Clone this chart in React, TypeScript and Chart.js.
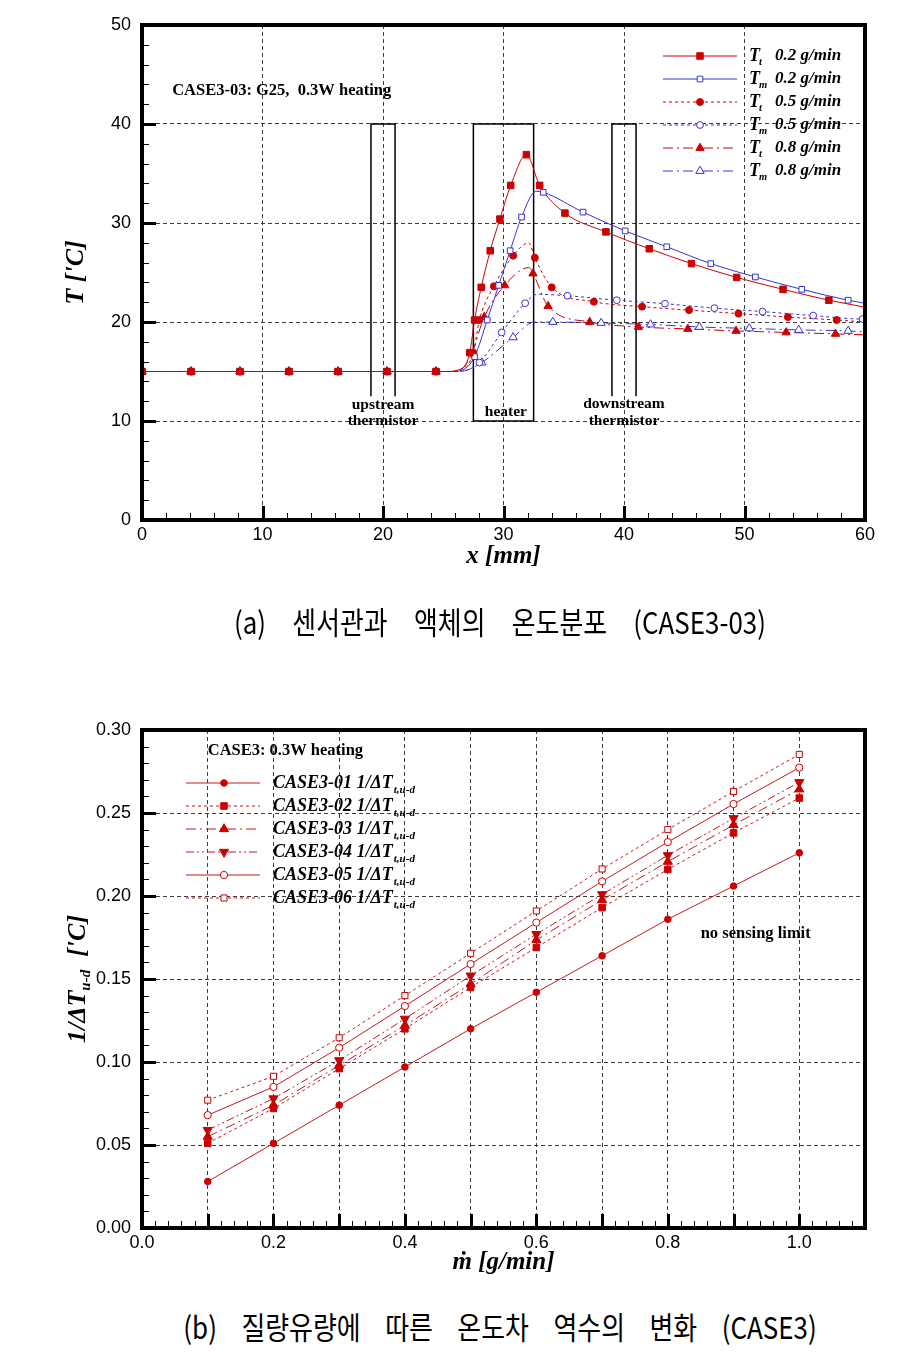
import React, { useEffect, useRef } from 'react';
import { Chart, registerables } from 'chart.js';

Chart.register(...registerables);

// ---------------- Chart (a): temperature distribution ----------------
const inletX = [0, 4.07, 8.13, 12.2, 16.27, 20.33, 24.4];
const inletT = [15, 15, 15, 15, 15, 15, 15];

const tt02X = [27.2, 27.6, 28.15, 28.9, 29.7, 30.6, 31.9, 33.0, 35.1, 38.5, 42.1, 45.6, 49.35, 53.2, 57.0];
const tt02T = [16.9, 20.2, 23.5, 27.2, 30.4, 33.8, 36.9, 33.8, 31.0, 29.1, 27.4, 25.9, 24.5, 23.3, 22.2];
const tt02CurveX = [25.4, 26.2, 26.8, 60];
const tt02CurveT = [15.0, 15.15, 15.6, 21.5];

const tm02X = [27.6, 28.65, 29.6, 30.55, 31.5, 33.3, 36.6, 40.1, 43.55, 47.2, 50.9, 54.75, 58.6];
const tm02T = [16.5, 20.2, 23.7, 27.2, 30.6, 33.1, 31.1, 29.2, 27.6, 25.9, 24.55, 23.3, 22.2];
const tm02CurveX = [25.6, 26.6, 32.7, 60];
const tm02CurveT = [15.0, 15.15, 33.2, 21.9];

const tt05X = [27.5, 28.0, 29.2, 30.8, 32.6, 34.0, 37.5, 41.5, 45.4, 49.5, 53.6, 57.65];
const tt05T = [16.9, 20.2, 23.6, 26.7, 26.5, 23.5, 22.05, 21.55, 21.2, 20.85, 20.5, 20.2];
const tt05CurveX = [25.5, 26.3, 32.1, 60];
const tt05CurveT = [15.0, 15.15, 28.0, 20.0];

const tm05X = [28.0, 29.85, 31.8, 35.3, 39.4, 43.4, 47.5, 51.5, 55.7, 59.8];
const tm05T = [15.9, 18.95, 21.9, 22.65, 22.2, 21.85, 21.4, 21.05, 20.65, 20.3];
const tm05CurveX = [26.0, 27.0, 32.8, 60];
const tm05CurveT = [15.0, 15.15, 22.8, 20.3];

const tt08X = [28.4, 30.1, 32.45, 33.7, 37.15, 41.2, 45.3, 49.3, 53.45, 57.55];
const tt08T = [20.5, 23.7, 24.9, 21.6, 20.0, 19.5, 19.3, 19.1, 18.95, 18.8];
const tt08CurveX = [25.5, 26.4, 27.3, 32.1, 60];
const tt08CurveT = [15.0, 15.15, 16.6, 25.5, 18.7];

const tm08X = [28.2, 30.8, 34.1, 38.1, 42.2, 46.25, 50.4, 54.5, 58.6];
const tm08T = [15.9, 18.45, 20.0, 19.9, 19.75, 19.5, 19.35, 19.2, 19.1];
const tm08CurveX = [26.0, 27.0, 32.6, 60];
const tm08CurveT = [15.0, 15.15, 20.0, 19.0];

const topLegendRates = ['0.2 g/min', '0.2 g/min', '0.5 g/min', '0.5 g/min', '0.8 g/min', '0.8 g/min'];
const topLegendSubs = ['t', 'm', 't', 'm', 't', 'm'];

const topXTicks = { min: 0, max: 60, step: 10, minor: 2 };
const topYTicks = { min: 0, max: 50, step: 10, minor: 2 };

// ---------------- Chart (b): inverse temperature difference ----------------
const massFlow = [0.1, 0.2, 0.3, 0.4, 0.5, 0.6, 0.7, 0.8, 0.9, 1.0];
const case01 = [0.028, 0.051, 0.074, 0.097, 0.12, 0.142, 0.164, 0.186, 0.206, 0.226];
const case02 = [0.051, 0.072, 0.096, 0.12, 0.145, 0.169, 0.193, 0.216, 0.238, 0.259];
const case03 = [0.055, 0.074, 0.098, 0.122, 0.147, 0.1735, 0.1976, 0.2207, 0.2428, 0.2643];
const case04 = [0.059, 0.078, 0.101, 0.126, 0.152, 0.177, 0.201, 0.2245, 0.2468, 0.2685];
const case05 = [0.068, 0.085, 0.1086, 0.1337, 0.159, 0.184, 0.2088, 0.2325, 0.2554, 0.2773];
const case06 = [0.077, 0.0914, 0.1146, 0.14, 0.1655, 0.191, 0.2163, 0.24, 0.263, 0.2853];
const caseNames = ['CASE3-01', 'CASE3-02', 'CASE3-03', 'CASE3-04', 'CASE3-05', 'CASE3-06'];

const botXTicks = { min: 0, max: 1.1, step: 0.1, minor: 0.02 };
const botYTicks = { min: 0, max: 0.3, step: 0.05, minor: 0.01 };

// ---------------- styles ----------------
const RED = '#cc0000';
const RED2 = '#c41a1a';
const BLUE = '#3535d8';
const GRID = '#3c3c3c';
const SERIF = '"Liberation Serif", "Times New Roman", serif';
const SANS = '"Liberation Sans", Arial, sans-serif';
const SOLID: number[] = [];
const DASH = [3, 3];
const DASHDOT = [10, 4, 2, 4];
const DASHDOTDOT = [8, 3, 2, 3, 2, 3];

type Marker = { style: string; filled: boolean; r: number; rot?: number };

function drawMarker(ctx: CanvasRenderingContext2D, m: Marker, x: number, y: number, color: string) {
  ctx.save();
  ctx.beginPath();
  if (m.style === 'rect') {
    const s = Math.SQRT1_2 * m.r;
    ctx.rect(x - s, y - s, 2 * s, 2 * s);
  } else if (m.style === 'circle') {
    ctx.arc(x, y, m.r, 0, Math.PI * 2);
  } else {
    let rad = ((m.rot || 0) * Math.PI) / 180;
    ctx.moveTo(x + Math.sin(rad) * m.r, y - Math.cos(rad) * m.r);
    rad += (2 * Math.PI) / 3;
    ctx.lineTo(x + Math.sin(rad) * m.r, y - Math.cos(rad) * m.r);
    rad += (2 * Math.PI) / 3;
    ctx.lineTo(x + Math.sin(rad) * m.r, y - Math.cos(rad) * m.r);
    ctx.closePath();
  }
  ctx.fillStyle = m.filled ? color : '#ffffff';
  ctx.fill();
  ctx.lineWidth = 1;
  ctx.strokeStyle = color;
  ctx.setLineDash([]);
  ctx.stroke();
  ctx.restore();
}

function framePlugin(id: string, xt: any, yt: any) {
  return {
    id,
    afterDatasetsDraw(chart: any) {
      const { ctx, chartArea: a, scales } = chart;
      const xs = scales.x;
      const ys = scales.y;
      ctx.save();
      ctx.strokeStyle = '#000';
      ctx.setLineDash([]);
      const ticksX = (step: number, len: number, w: number) => {
        const n = Math.round((xt.max - xt.min) / step);
        ctx.lineWidth = w;
        for (let i = 0; i <= n; i++) {
          const px = Math.round(xs.getPixelForValue(xt.min + i * step)) + (w % 2 ? 0.5 : 0);
          ctx.beginPath();
          ctx.moveTo(px, a.bottom);
          ctx.lineTo(px, a.bottom - len);
          ctx.stroke();
        }
      };
      const ticksY = (step: number, len: number, w: number) => {
        const n = Math.round((yt.max - yt.min) / step);
        ctx.lineWidth = w;
        for (let i = 0; i <= n; i++) {
          const py = Math.round(ys.getPixelForValue(yt.min + i * step)) + (w % 2 ? 0.5 : 0);
          ctx.beginPath();
          ctx.moveTo(a.left, py);
          ctx.lineTo(a.left + len, py);
          ctx.stroke();
        }
      };
      ticksX(xt.minor, 7, 1);
      ticksY(yt.minor, 7, 1);
      ticksX(xt.step, 14, 3);
      ticksY(yt.step, 14, 3);
      ctx.lineWidth = 4;
      ctx.strokeRect(a.left, a.top, a.right - a.left, a.bottom - a.top);
      ctx.restore();
    },
  };
}

function gridColor(min: number, max: number) {
  return (c: any) => {
    const v = c.tick ? c.tick.value : NaN;
    if (Math.abs(v - min) < 1e-9 || Math.abs(v - max) < 1e-9) return 'rgba(0,0,0,0)';
    return GRID;
  };
}

function curvePoints(mx: number[], my: number[], cx: number[], cy: number[]) {
  const pts: { x: number; y: number }[] = [];
  inletX.forEach((x, i) => pts.push({ x, y: inletT[i] }));
  mx.forEach((x, i) => pts.push({ x, y: my[i] }));
  cx.forEach((x, i) => pts.push({ x, y: cy[i] }));
  pts.sort((p, q) => p.x - q.x);
  return pts;
}

function markerPoints(mx: number[], my: number[]) {
  const pts: { x: number; y: number }[] = [];
  inletX.forEach((x, i) => pts.push({ x, y: inletT[i] }));
  mx.forEach((x, i) => pts.push({ x, y: my[i] }));
  return pts;
}

const topSeries = [
  { mx: tt02X, my: tt02T, cx: tt02CurveX, cy: tt02CurveT, color: RED, dash: SOLID, marker: { style: 'rect', filled: true, r: 4.6 } },
  { mx: tm02X, my: tm02T, cx: tm02CurveX, cy: tm02CurveT, color: BLUE, dash: SOLID, marker: { style: 'rect', filled: false, r: 4.0 } },
  { mx: tt05X, my: tt05T, cx: tt05CurveX, cy: tt05CurveT, color: RED, dash: DASH, marker: { style: 'circle', filled: true, r: 3.5 } },
  { mx: tm05X, my: tm05T, cx: tm05CurveX, cy: tm05CurveT, color: BLUE, dash: DASH, marker: { style: 'circle', filled: false, r: 3.4 } },
  { mx: tt08X, my: tt08T, cx: tt08CurveX, cy: tt08CurveT, color: RED, dash: DASHDOT, marker: { style: 'triangle', filled: true, r: 4.8 } },
  { mx: tm08X, my: tm08T, cx: tm08CurveX, cy: tm08CurveT, color: BLUE, dash: DASHDOT, marker: { style: 'triangle', filled: false, r: 4.8 } },
];

const botSeries = [
  { y: case01, dash: SOLID, marker: { style: 'circle', filled: true, r: 3.3 } },
  { y: case02, dash: DASH, marker: { style: 'rect', filled: true, r: 4.6 } },
  { y: case03, dash: DASHDOT, marker: { style: 'triangle', filled: true, r: 5.3 } },
  { y: case04, dash: DASHDOTDOT, marker: { style: 'triangle', filled: true, r: 5.3, rot: 180 } },
  { y: case05, dash: SOLID, marker: { style: 'circle', filled: false, r: 3.6 } },
  { y: case06, dash: DASH, marker: { style: 'rect', filled: false, r: 4.3 } },
];

// annotation geometry (data coordinates)
const upstreamBox = { x0: 19, x1: 21, top: 40, bottom: 12.5 };
const heaterBox = { x0: 27.5, x1: 32.5, top: 40, bottom: 10 };
const downstreamBox = { x0: 39, x1: 41, top: 40, bottom: 12.5 };

const topAnnotations = {
  id: 'topAnnotations',
  beforeDatasetsDraw(chart: any) {
    const { ctx, scales } = chart;
    const xs = scales.x;
    const ys = scales.y;
    ctx.save();
    ctx.strokeStyle = '#000';
    ctx.lineWidth = 1.5;
    ctx.setLineDash([]);
    const openBox = (b: any) => {
      const x0 = xs.getPixelForValue(b.x0);
      const x1 = xs.getPixelForValue(b.x1);
      const yt = ys.getPixelForValue(b.top);
      const yb = ys.getPixelForValue(b.bottom);
      ctx.beginPath();
      ctx.moveTo(x0, yb);
      ctx.lineTo(x0, yt);
      ctx.lineTo(x1, yt);
      ctx.lineTo(x1, yb);
      ctx.stroke();
    };
    openBox(upstreamBox);
    openBox(downstreamBox);
    const hx0 = xs.getPixelForValue(heaterBox.x0);
    const hx1 = xs.getPixelForValue(heaterBox.x1);
    const hyt = ys.getPixelForValue(heaterBox.top);
    const hyb = ys.getPixelForValue(heaterBox.bottom);
    ctx.strokeRect(hx0, hyt, hx1 - hx0, hyb - hyt);

    ctx.fillStyle = '#000';
    ctx.font = `bold 15.5px ${SERIF}`;
    ctx.textAlign = 'center';
    ctx.textBaseline = 'middle';
    ctx.fillText('upstream', xs.getPixelForValue(20), ys.getPixelForValue(11.65));
    ctx.fillText('thermistor', xs.getPixelForValue(20), ys.getPixelForValue(9.95));
    ctx.fillText('heater', xs.getPixelForValue(30.2), ys.getPixelForValue(10.9));
    ctx.fillText('downstream', xs.getPixelForValue(40), ys.getPixelForValue(11.7));
    ctx.fillText('thermistor', xs.getPixelForValue(40), ys.getPixelForValue(9.95));

    ctx.textAlign = 'left';
    ctx.font = `bold 16.5px ${SERIF}`;
    ctx.fillText('CASE3-03: G25,  0.3W heating', xs.getPixelForValue(2.5), ys.getPixelForValue(43.4));
    ctx.restore();
  },
  afterDatasetsDraw(chart: any) {
    const { ctx, chartArea: a } = chart;
    ctx.save();
    topSeries.forEach((s, i) => {
      const y = a.top + 31 + i * 23;
      ctx.strokeStyle = s.color;
      ctx.lineWidth = 1;
      ctx.setLineDash(s.dash);
      ctx.beginPath();
      ctx.moveTo(a.left + 521, y);
      ctx.lineTo(a.left + 595, y);
      ctx.stroke();
      drawMarker(ctx, s.marker, a.left + 558, y, s.color);
      ctx.fillStyle = '#000';
      ctx.textBaseline = 'middle';
      ctx.textAlign = 'left';
      ctx.font = `italic bold 18px ${SERIF}`;
      ctx.fillText('T', a.left + 607, y);
      ctx.font = `italic bold 10.5px ${SERIF}`;
      ctx.fillText(topLegendSubs[i], a.left + 617, y + 6);
      ctx.font = `italic bold 17px ${SERIF}`;
      ctx.fillText(topLegendRates[i], a.left + 633, y);
    });
    ctx.restore();
  },
};

const botAnnotations = {
  id: 'botAnnotations',
  afterDatasetsDraw(chart: any) {
    const { ctx, chartArea: a, scales } = chart;
    const xs = scales.x;
    const ys = scales.y;
    ctx.save();
    ctx.fillStyle = '#000';
    ctx.textBaseline = 'middle';
    ctx.textAlign = 'left';
    ctx.font = `bold 16.5px ${SERIF}`;
    ctx.fillText('CASE3: 0.3W heating', xs.getPixelForValue(0.1), ys.getPixelForValue(0.2873));
    ctx.fillText('no sensing limit', xs.getPixelForValue(0.85), ys.getPixelForValue(0.177));

    botSeries.forEach((s, i) => {
      const y = a.top + 53 + i * 23;
      ctx.strokeStyle = RED2;
      ctx.lineWidth = 1;
      ctx.setLineDash(s.dash);
      ctx.beginPath();
      ctx.moveTo(a.left + 44, y);
      ctx.lineTo(a.left + 118, y);
      ctx.stroke();
      drawMarker(ctx, s.marker, a.left + 82, y, RED);
      ctx.fillStyle = '#000';
      ctx.font = `italic bold 18px ${SERIF}`;
      const main = `${caseNames[i]} 1/\u0394T`;
      ctx.fillText(main, a.left + 131, y);
      const w = ctx.measureText(main).width;
      ctx.font = `italic bold 11px ${SERIF}`;
      ctx.fillText('t,u-d', a.left + 132 + w, y + 7);
    });

    // y axis title with subscript
    const cy = (a.top + a.bottom) / 2;
    const big = `italic bold 26px ${SERIF}`;
    const small = `italic bold 15px ${SERIF}`;
    ctx.font = big;
    const w1 = ctx.measureText('1/\u0394T').width;
    const w3 = ctx.measureText("  ['C]").width;
    ctx.font = small;
    const w2 = ctx.measureText('u-d').width;
    const total = w1 + w2 + w3;
    ctx.translate(78, cy);
    ctx.rotate(-Math.PI / 2);
    ctx.textAlign = 'left';
    ctx.textBaseline = 'middle';
    ctx.font = big;
    ctx.fillText('1/\u0394T', -total / 2, 0);
    ctx.font = small;
    ctx.fillText('u-d', -total / 2 + w1, 8);
    ctx.font = big;
    ctx.fillText("  ['C]", -total / 2 + w1 + w2, 0);
    ctx.restore();
  },
};

function useChart(ref: React.RefObject<HTMLCanvasElement>, makeConfig: () => any) {
  useEffect(() => {
    if (!ref.current) return;
    const chart = new Chart(ref.current, makeConfig());
    return () => chart.destroy();
  }, []);
}

function topConfig() {
  const datasets: any[] = [];
  topSeries.forEach((s) => {
    datasets.push({
      data: curvePoints(s.mx, s.my, s.cx, s.cy),
      borderColor: s.color,
      borderWidth: 1,
      borderDash: s.dash,
      pointRadius: 0,
      cubicInterpolationMode: 'monotone',
      fill: false,
      order: 2,
    });
  });
  topSeries.forEach((s) => {
    datasets.push({
      data: markerPoints(s.mx, s.my),
      showLine: false,
      pointStyle: s.marker.style,
      pointRadius: s.marker.r,
      pointBackgroundColor: s.marker.filled ? s.color : '#ffffff',
      pointBorderColor: s.color,
      pointBorderWidth: 1,
      order: 1,
    });
  });
  return {
    type: 'line',
    data: { datasets },
    options: {
      animation: false,
      responsive: false,
      events: [],
      layout: { padding: { left: 0, right: 39, top: 25, bottom: 0 } },
      plugins: { legend: { display: false }, tooltip: { enabled: false } },
      scales: {
        x: {
          type: 'linear',
          min: topXTicks.min,
          max: topXTicks.max,
          afterFit: (s: any) => { s.height = 80; },
          ticks: { stepSize: topXTicks.step, color: '#000', font: { family: SANS, size: 18 }, padding: 4, maxRotation: 0, autoSkip: false },
          grid: { drawTicks: false, lineWidth: 1, color: gridColor(topXTicks.min, topXTicks.max) },
          border: { display: false, dash: [4, 3] },
          title: { display: true, text: 'x [mm]', color: '#000', font: { family: SERIF, size: 25, style: 'italic', weight: 'bold' }, padding: { top: 0, bottom: 28 } },
        },
        y: {
          type: 'linear',
          min: topYTicks.min,
          max: topYTicks.max,
          afterFit: (s: any) => { s.width = 142; },
          ticks: { stepSize: topYTicks.step, color: '#000', font: { family: SANS, size: 18 }, padding: 11 },
          grid: { drawTicks: false, lineWidth: 1, color: gridColor(topYTicks.min, topYTicks.max) },
          border: { display: false, dash: [4, 3] },
          title: { display: true, text: "T ['C]", color: '#000', font: { family: SERIF, size: 26, style: 'italic', weight: 'bold' }, padding: { top: 61, bottom: 0 } },
        },
      },
    },
    plugins: [topAnnotations, framePlugin('topFrame', topXTicks, topYTicks)],
  };
}

function botConfig() {
  const datasets = botSeries.map((s) => ({
    data: massFlow.map((x, i) => ({ x, y: s.y[i] })),
    borderColor: RED2,
    borderWidth: 1,
    borderDash: s.dash,
    tension: 0,
    fill: false,
    pointStyle: s.marker.style,
    pointRotation: s.marker.rot || 0,
    pointRadius: s.marker.r,
    pointBackgroundColor: s.marker.filled ? RED : '#ffffff',
    pointBorderColor: RED,
    pointBorderWidth: 1,
  }));
  return {
    type: 'line',
    data: { datasets },
    options: {
      animation: false,
      responsive: false,
      events: [],
      layout: { padding: { left: 0, right: 39, top: 50, bottom: 0 } },
      plugins: { legend: { display: false }, tooltip: { enabled: false } },
      scales: {
        x: {
          type: 'linear',
          min: botXTicks.min,
          max: botXTicks.max,
          afterFit: (s: any) => { s.height = 72; },
          ticks: {
            stepSize: botXTicks.step,
            color: '#000',
            font: { family: SANS, size: 18 },
            padding: 4,
            maxRotation: 0,
            autoSkip: false,
            callback: (v: any) => {
              const k = Math.round(Number(v) * 10);
              return k % 2 === 0 ? (k / 10).toFixed(1) : '';
            },
          },
          grid: { drawTicks: false, lineWidth: 1, color: gridColor(botXTicks.min, botXTicks.max) },
          border: { display: false, dash: [4, 3] },
          title: { display: true, text: '\u1E41 [g/min]', color: '#000', font: { family: SERIF, size: 25, style: 'italic', weight: 'bold' }, padding: { top: 0, bottom: 22 } },
        },
        y: {
          type: 'linear',
          min: botYTicks.min,
          max: botYTicks.max,
          afterFit: (s: any) => { s.width = 142; },
          ticks: {
            stepSize: botYTicks.step,
            color: '#000',
            font: { family: SANS, size: 18 },
            padding: 11,
            callback: (v: any) => Number(v).toFixed(2),
          },
          grid: { drawTicks: false, lineWidth: 1, color: gridColor(botYTicks.min, botYTicks.max) },
          border: { display: false, dash: [4, 3] },
          title: { display: false },
        },
      },
    },
    plugins: [botAnnotations, framePlugin('botFrame', botXTicks, botYTicks)],
  };
}

const captionStyle: React.CSSProperties = {
  position: 'absolute',
  left: 500,
  whiteSpace: 'nowrap',
  fontFamily: '"Noto Sans CJK KR", sans-serif',
  fontSize: 30.5,
  lineHeight: '32px',
  color: '#000',
  transform: 'translateX(-50%) scaleX(0.85)',
};

export default function App() {
  const topRef = useRef<HTMLCanvasElement>(null);
  const botRef = useRef<HTMLCanvasElement>(null);
  useChart(topRef, topConfig);
  useChart(botRef, botConfig);
  return (
    <div style={{ position: 'absolute', left: 0, top: 0, width: 904, height: 1367, background: '#fff', overflow: 'hidden' }}>
      <canvas ref={topRef} width={904} height={600} style={{ position: 'absolute', left: 0, top: 0, width: 904, height: 600 }} />
      <div style={{ ...captionStyle, top: 605, wordSpacing: 24 }}>(a) 센서관과 액체의 온도분포 (CASE3-03)</div>
      <canvas ref={botRef} width={904} height={620} style={{ position: 'absolute', left: 0, top: 680, width: 904, height: 620 }} />
      <div style={{ ...captionStyle, top: 1310, wordSpacing: 22 }}>(b) 질량유량에 따른 온도차 역수의 변화 (CASE3)</div>
    </div>
  );
}
